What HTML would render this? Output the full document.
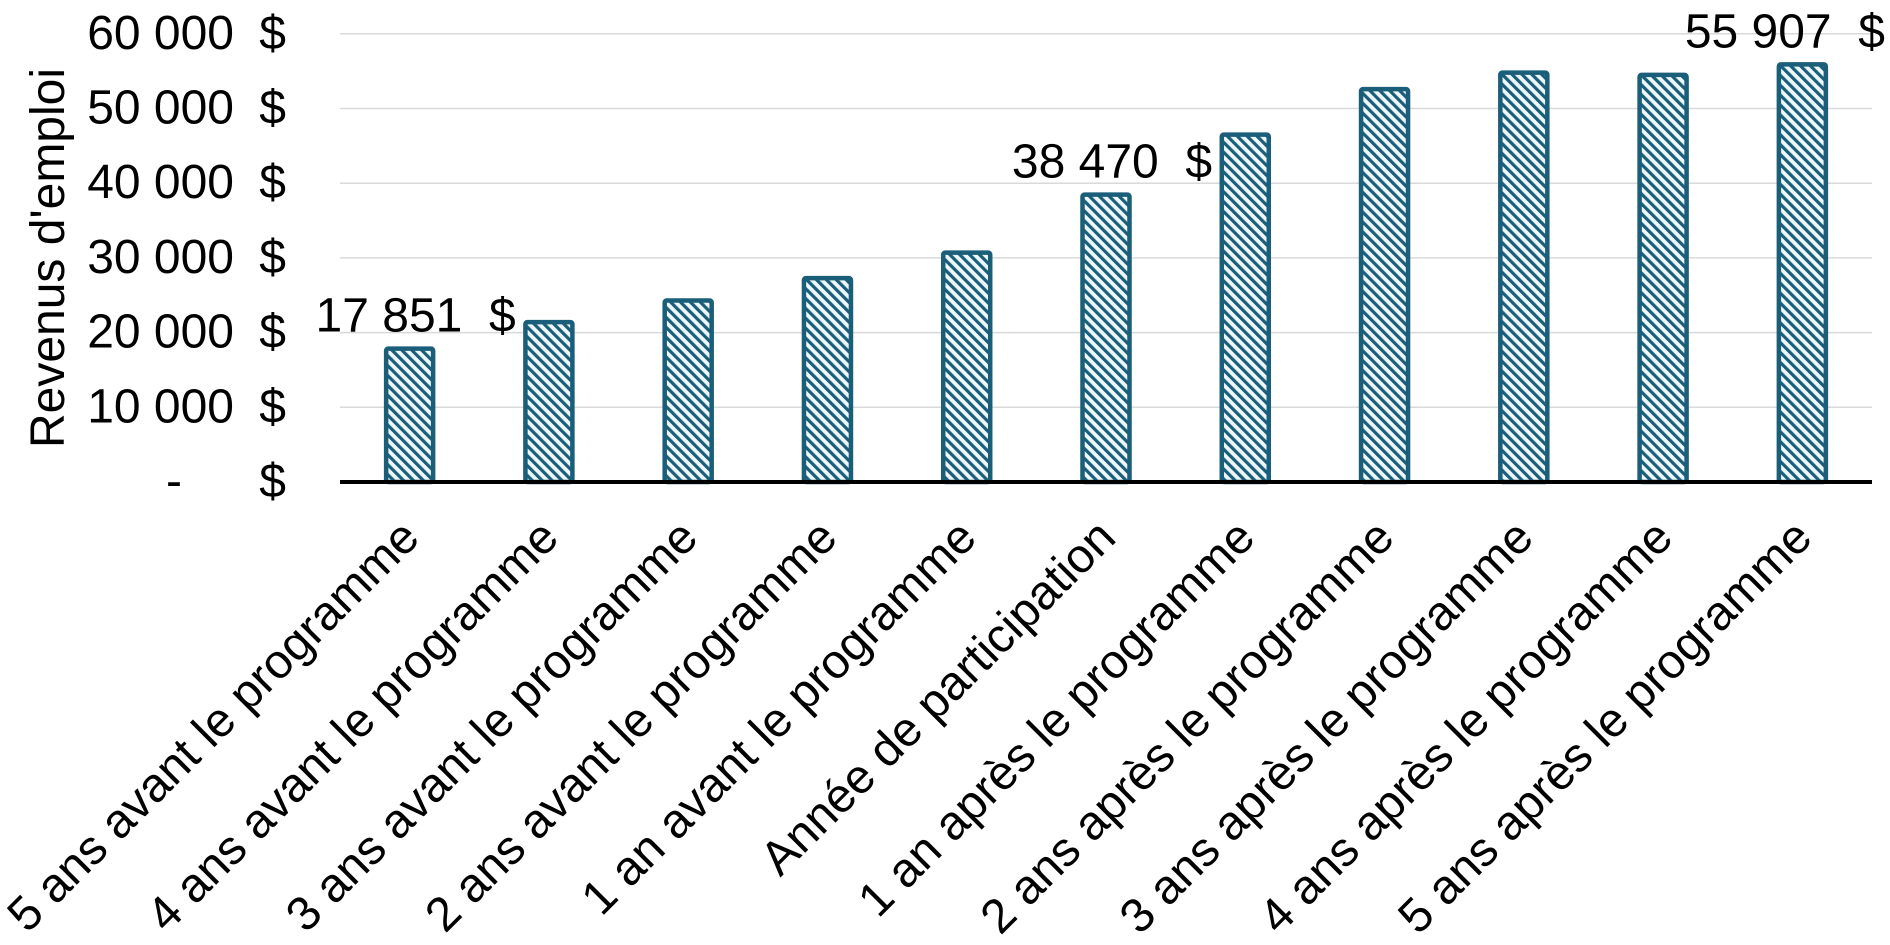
<!DOCTYPE html>
<html><head><meta charset="utf-8"><style>
html,body{margin:0;padding:0;background:#fff;}
svg{display:block;font-family:"Liberation Sans",Arial,sans-serif;}
</style></head><body>
<svg id="chart" width="1890" height="945" viewBox="0 0 1890 945">
<defs>
<pattern id="hatch" patternUnits="userSpaceOnUse" width="7" height="7" patternTransform="rotate(-45)">
<rect width="7" height="7" fill="#eef8fa"/>
<rect x="0" y="0" width="3.2" height="7" fill="#1b5e7a"/>
</pattern>
</defs>
<g id="grid"></g>
<g id="yticks"></g>
<g id="bars"></g>
<g id="labels"></g>
<g id="xlabels"></g>
<text transform="translate(64,258) rotate(-90)" text-anchor="middle" font-size="48" fill="#000">Revenus d'emploi</text>
</svg>
<script>
const categories = ["5 ans avant le programme","4 ans avant le programme","3 ans avant le programme","2 ans avant le programme","1 an avant le programme","Année de participation","1 an après le programme","2 ans après le programme","3 ans après le programme","4 ans après le programme","5 ans après le programme"];
const values = [17851,21400,24300,27300,30700,38470,46500,52600,54800,54500,55907];
const labelledIndices = [0,5,10];
const yTicks = [0,10000,20000,30000,40000,50000,60000];
const yTickLabels = ["-","10 000","20 000","30 000","40 000","50 000","60 000"];

const NS="http://www.w3.org/2000/svg";
const left=340,right=1872,y0=482,pxPer=74.7/10000;
const band=(right-left)/categories.length;
const bw=47;
function yScale(v){return y0-v*pxPer;}
function xCenter(i){return left+band*(i+0.5);}
function fmt(v){return String(v).replace(/\B(?=(\d{3})+(?!\d))/g," ");}
function mk(tag,attrs,parent){const e=document.createElementNS(NS,tag);for(const k in attrs)e.setAttribute(k,attrs[k]);parent.appendChild(e);return e;}

const grid=document.getElementById('grid'),yt=document.getElementById('yticks'),bars=document.getElementById('bars'),labels=document.getElementById('labels'),xl=document.getElementById('xlabels');
yTicks.forEach((t,i)=>{
  const y=yScale(t);
  if(t>0){
    const l=mk('line',{x1:left,x2:right,y1:y,y2:y,stroke:'#d9d9d9','stroke-width':1.5},grid);
    
    
  }
  const n=mk('text',{x:t===0?182:234,y:y+15,'text-anchor':'end','font-size':48,fill:'#000'},yt);
  n.textContent=yTickLabels[i];
  
  
  const d=mk('text',{x:286,y:y+15,'text-anchor':'end','font-size':48,fill:'#000'},yt);
  d.textContent='$';
  
  
});
values.forEach((v,i)=>{
  const cx=xCenter(i),top=yScale(v);
  const r=mk('rect',{x:cx-bw/2,y:top,width:bw,height:y0-top,fill:'url(#hatch)',stroke:'#1b5e7a','stroke-width':4.5,rx:2},bars);
  
  
  if(labelledIndices.includes(i)){
    const last=i===values.length-1;
    const t=mk('text',{x:last?1885:cx+6,y:top-17,'text-anchor':last?'end':'middle','font-size':48,fill:'#000'},labels);
    t.textContent=fmt(v)+'\u00a0\u00a0$';
    
    
  }
  const c=mk('text',{transform:`translate(${cx+12},540) rotate(-45)`,'text-anchor':'end','font-size':48,fill:'#000'},xl);
  c.textContent=categories[i];
  
  
});
const ax=mk('line',{x1:left,x2:right,y1:y0,y2:y0,stroke:'#000','stroke-width':4},document.getElementById('chart'));


</script>
</body></html>
